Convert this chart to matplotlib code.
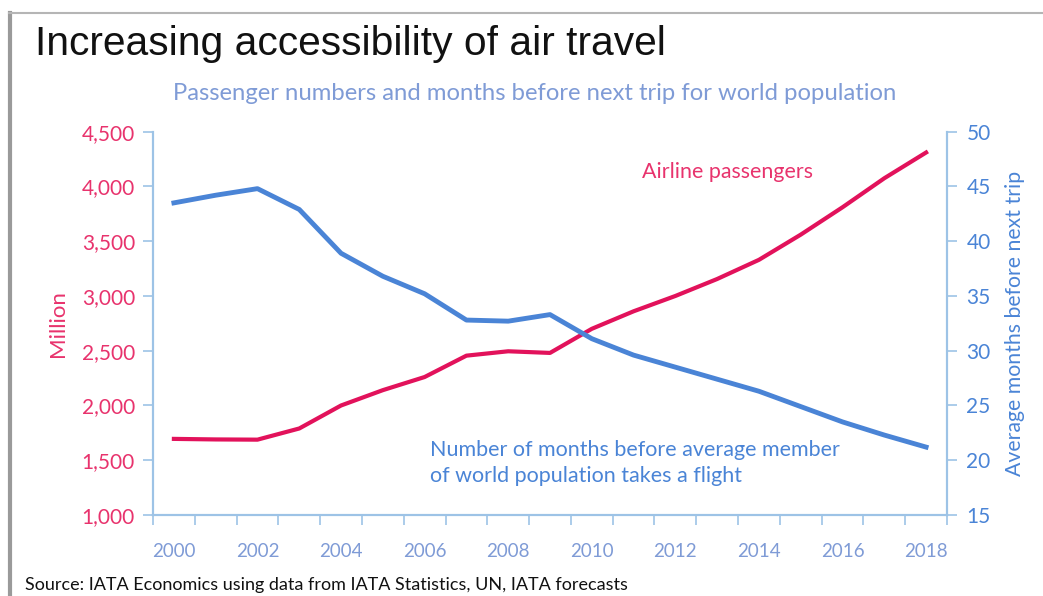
import numpy as np
import matplotlib.pyplot as plt
from matplotlib.lines import Line2D

# Values
years = list(range(2000, 2019))
passengers = [1695, 1690, 1688, 1790, 2000, 2140, 2260, 2455, 2495, 2480,
              2700, 2860, 3000, 3155, 3330, 3560, 3810, 4075, 4310]
months = [43.5, 44.2, 44.8, 42.9, 38.9, 36.8, 35.2, 32.8, 32.7, 33.3,
          31.1, 29.6, 28.5, 27.4, 26.3, 24.9, 23.5, 22.3, 21.2]
left_ticks = [1000, 1500, 2000, 2500, 3000, 3500, 4000, 4500]
right_ticks = [15, 20, 25, 30, 35, 40, 45, 50]

pink = "#E2125B"
blue = "#4A84D6"
label_pink = "#E8336D"
spine_col = "#9DC3E6"
xlab_col = "#7F9BD6"
font = "Lato"

fig = plt.figure(figsize=(10.43, 5.96), dpi=100)
ax = fig.add_axes([153 / 1043, 1 - 515 / 596, 794 / 1043, (515 - 131.7) / 596])
ax2 = ax.twinx()

x = np.arange(len(years))
ax.plot(x, passengers, color=pink, lw=3, solid_joinstyle="round", zorder=3)
ax2.plot(x, months, color=blue, lw=3.5, solid_joinstyle="round", zorder=3)

ax.set_xlim(-0.5, len(years) - 0.5)
ax.set_ylim(1000, 4500)
ax2.set_ylim(15, 50)

# category axis: ticks on the boundaries, labels every second year at centres
ax.set_xticks(np.arange(-0.5, len(years), 1.0))
ax.set_xticklabels([])
ax.set_xticks(x[::2], minor=True)
ax.set_xticklabels([str(y) for y in years[::2]], minor=True)
ax.tick_params(axis="x", which="major", direction="out", length=7, width=1.2,
               color=spine_col)
ax.tick_params(axis="x", which="minor", length=0, pad=20, labelsize=13.5,
               labelcolor=xlab_col)
for lab in ax.get_xticklabels(minor=True):
    lab.set_family(font)

ax.set_yticks(left_ticks)
ax.set_yticklabels([f"{v:,}" for v in left_ticks], family=font)
ax.tick_params(axis="y", direction="out", length=7, width=1.2, color=spine_col,
               labelsize=15, labelcolor=label_pink, pad=6)
ax2.set_yticks(right_ticks)
ax2.set_yticklabels([str(v) for v in right_ticks], family=font)
ax2.tick_params(axis="y", direction="out", length=7, width=1.2, color=spine_col,
                labelsize=15, labelcolor=blue, pad=7)

for a in (ax, ax2):
    a.spines["top"].set_visible(False)
    for s in ("left", "right", "bottom"):
        a.spines[s].set_color(spine_col)
        a.spines[s].set_linewidth(1.5)

ax.set_ylabel("Million", color=label_pink, fontsize=16, family=font, labelpad=10)
ax2.set_ylabel("Average months before next trip", color=blue, fontsize=15.3,
               family=font, labelpad=10)

ax.text(11.2, 4132, "Airline passengers", color=label_pink, fontsize=15.4,
        family=font, va="center")
ax2.text(6.13, 19.75, "Number of months before average member\nof world population takes a flight",
         color=blue, fontsize=15.5, family=font, va="center", linespacing=1.35)

fig.text(35 / 1043, 1 - 44 / 596, "Increasing accessibility of air travel",
         fontsize=29.3, family="Liberation Sans", va="center", color="#111111")
fig.text(535 / 1043, 1 - 93 / 596,
         "Passenger numbers and months before next trip for world population",
         fontsize=17.2, family=font, color="#7F9BD6", ha="center", va="center")
fig.text(25 / 1043, 1 - 585 / 596,
         "Source: IATA Economics using data from IATA Statistics, UN, IATA forecasts",
         fontsize=13, family=font, color="#111111", va="center")

# slide frame
fig.add_artist(Line2D([10 / 1043, 10 / 1043], [0, 1 - 13 / 596], color="#9a9a9a",
                      lw=3, transform=fig.transFigure))
fig.add_artist(Line2D([9 / 1043, 1], [1 - 13 / 596, 1 - 13 / 596], color="#b5b5b5",
                      lw=1.5, transform=fig.transFigure))

fig.savefig("out.png", dpi=100)
